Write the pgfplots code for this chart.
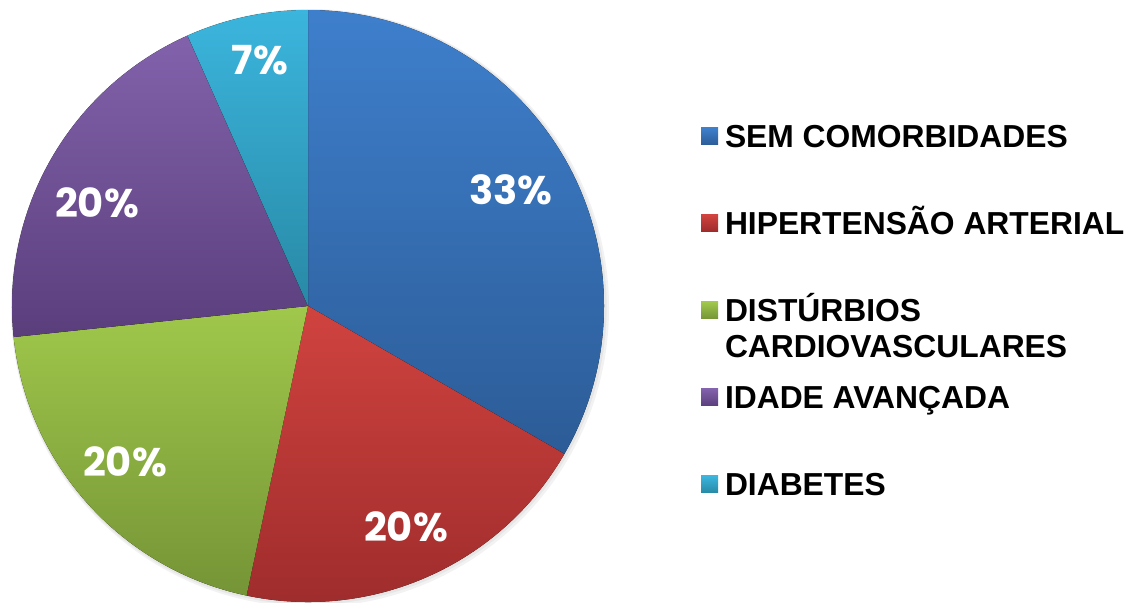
\documentclass[border=0pt]{standalone}
\usepackage{fontspec}
\setmainfont{Liberation Sans}
\newfontfamily\pctfont{Poppins}
\usepackage{pgfplots}
\usepackage{pgfplotstable}
\pgfplotsset{compat=1.18}

\definecolor{blueT}{HTML}{3E7FCC}\definecolor{blueB}{HTML}{2C5C97}
\definecolor{redT}{HTML}{D0433F}\definecolor{redB}{HTML}{9C2B2B}
\definecolor{greenT}{HTML}{A0C84B}\definecolor{greenB}{HTML}{759436}
\definecolor{purpleT}{HTML}{8262AB}\definecolor{purpleB}{HTML}{5A3E7C}
\definecolor{cyanT}{HTML}{3BB5DD}\definecolor{cyanB}{HTML}{2889A5}

\pgfplotstableread{
value lx ly
33.33 511 190
20    406 527
20    125 462
20    97  203
6.67  260 60
}\piedata

\begin{document}
\begin{tikzpicture}
% values and label positions
\pgfplotstablegetelem{0}{value}\of\piedata \pgfmathsetmacro\vA{\pgfplotsretval}
\pgfplotstablegetelem{1}{value}\of\piedata \pgfmathsetmacro\vB{\pgfplotsretval}
\pgfplotstablegetelem{2}{value}\of\piedata \pgfmathsetmacro\vC{\pgfplotsretval}
\pgfplotstablegetelem{3}{value}\of\piedata \pgfmathsetmacro\vD{\pgfplotsretval}
\pgfplotstablegetelem{4}{value}\of\piedata \pgfmathsetmacro\vE{\pgfplotsretval}
\pgfmathsetmacro\aA{90}
\pgfmathsetmacro\aB{\aA-3.6*\vA}
\pgfmathsetmacro\aC{\aB-3.6*\vB}
\pgfmathsetmacro\aD{\aC-3.6*\vC}
\pgfmathsetmacro\aE{\aD-3.6*\vD}
\pgfmathsetmacro\aF{\aE-3.6*\vE}
\pgfplotstablegetelem{0}{lx}\of\piedata \edef\lxA{\pgfplotsretval}
\pgfplotstablegetelem{1}{lx}\of\piedata \edef\lxB{\pgfplotsretval}
\pgfplotstablegetelem{2}{lx}\of\piedata \edef\lxC{\pgfplotsretval}
\pgfplotstablegetelem{3}{lx}\of\piedata \edef\lxD{\pgfplotsretval}
\pgfplotstablegetelem{4}{lx}\of\piedata \edef\lxE{\pgfplotsretval}
\pgfplotstablegetelem{0}{ly}\of\piedata \pgfmathsetmacro\lyA{602-\pgfplotsretval}
\pgfplotstablegetelem{1}{ly}\of\piedata \pgfmathsetmacro\lyB{602-\pgfplotsretval}
\pgfplotstablegetelem{2}{ly}\of\piedata \pgfmathsetmacro\lyC{602-\pgfplotsretval}
\pgfplotstablegetelem{3}{ly}\of\piedata \pgfmathsetmacro\lyD{602-\pgfplotsretval}
\pgfplotstablegetelem{4}{ly}\of\piedata \pgfmathsetmacro\lyE{602-\pgfplotsretval}
\def\R{148pt}
\begin{axis}[
  axis line style={draw=none},
  xtick=\empty, ytick=\empty,
  x=0.5pt, y=0.5pt,
  xmin=0, xmax=1128, ymin=0, ymax=602,
  /pgf/number format/assume math mode=true,
  legend cell align=left,
  legend style={
    at={(0.62145,0.79236)}, anchor=north west,
    draw=none, fill=none, inner sep=0pt, outer sep=0pt,
    row sep=32.1pt, column sep=0pt,
    font=\bfseries\fontsize{15.9}{18}\selectfont,
    nodes={inner sep=0pt, text height=11.4pt, text depth=0pt},
  },
]
\addlegendimage{legend image code/.code={\shade[draw=none,top color=blueT,bottom color=blueB] (0pt,-4.25pt) rectangle (8.5pt,4.25pt); \path[draw=none] (0pt,0pt) -- (12pt,0pt);}}
\addlegendentry{SEM COMORBIDADES}
\addlegendimage{legend image code/.code={\shade[draw=none,top color=redT,bottom color=redB] (0pt,-4.25pt) rectangle (8.5pt,4.25pt); \path[draw=none] (0pt,0pt) -- (12pt,0pt);}}
\addlegendentry{HIPERTENSÃO ARTERIAL}
\addlegendimage{legend image code/.code={\shade[draw=none,top color=greenT,bottom color=greenB] (0pt,-4.25pt) rectangle (8.5pt,4.25pt); \path[draw=none] (0pt,0pt) -- (12pt,0pt);}}
\addlegendentry{\smash{\begin{tabular}[t]{@{}l@{}}DISTÚRBIOS\\CARDIOVASCULARES\end{tabular}}}
\addlegendimage{legend image code/.code={\shade[draw=none,top color=purpleT,bottom color=purpleB] (0pt,-4.25pt) rectangle (8.5pt,4.25pt); \path[draw=none] (0pt,0pt) -- (12pt,0pt);}}
\addlegendentry{IDADE AVANÇADA}
\addlegendimage{legend image code/.code={\shade[draw=none,top color=cyanT,bottom color=cyanB] (0pt,-4.25pt) rectangle (8.5pt,4.25pt); \path[draw=none] (0pt,0pt) -- (12pt,0pt);}}
\addlegendentry{DIABETES}

% soft shadow
\fill[black, opacity=0.05] (axis cs:310,294) circle (149.5pt);
\fill[black, opacity=0.05] (axis cs:309,295) circle (148.8pt);
% slices
\fill[top color=blueT,bottom color=blueB] (axis cs:308,296) -- ++(\aA:\R) arc[start angle=\aA,end angle=\aB,radius=\R] -- cycle;
\fill[top color=redT,bottom color=redB] (axis cs:308,296) -- ++(\aB:\R) arc[start angle=\aB,end angle=\aC,radius=\R] -- cycle;
\fill[top color=greenT,bottom color=greenB] (axis cs:308,296) -- ++(\aC:\R) arc[start angle=\aC,end angle=\aD,radius=\R] -- cycle;
\fill[top color=purpleT,bottom color=purpleB] (axis cs:308,296) -- ++(\aD:\R) arc[start angle=\aD,end angle=\aE,radius=\R] -- cycle;
\fill[top color=cyanT,bottom color=cyanB] (axis cs:308,296) -- ++(\aE:\R) arc[start angle=\aE,end angle=\aF,radius=\R] -- cycle;
% labels
\tikzset{pct/.style={text=white, inner sep=0pt, font=\pctfont\bfseries\fontsize{20}{24}\selectfont}}
\node[pct] at (axis cs:\lxA,\lyA) {\pgfmathprintnumber[fixed,precision=0,assume math mode=true]{\vA}\%};
\node[pct] at (axis cs:\lxB,\lyB) {\pgfmathprintnumber[fixed,precision=0,assume math mode=true]{\vB}\%};
\node[pct] at (axis cs:\lxC,\lyC) {\pgfmathprintnumber[fixed,precision=0,assume math mode=true]{\vC}\%};
\node[pct] at (axis cs:\lxD,\lyD) {\pgfmathprintnumber[fixed,precision=0,assume math mode=true]{\vD}\%};
\node[pct] at (axis cs:\lxE,\lyE) {\pgfmathprintnumber[fixed,precision=0,assume math mode=true]{\vE}\%};
\end{axis}
\end{tikzpicture}
\end{document}
